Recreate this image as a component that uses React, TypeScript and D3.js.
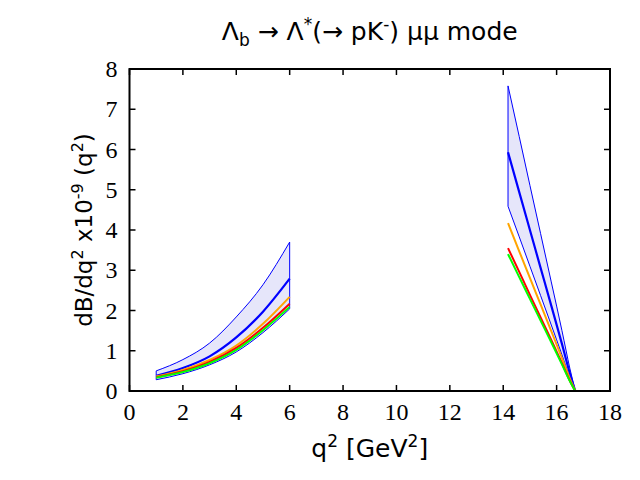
import * as d3 from "d3";

// low q2 region (1 - 6 GeV^2)
const lowQ2 = [1, 2, 3, 4, 5, 6];
const lowUpper = [0.5, 0.78, 1.19, 1.84, 2.64, 3.7];
const lowCentral = [0.38, 0.57, 0.86, 1.33, 1.97, 2.79];
const lowLower = [0.28, 0.43, 0.65, 0.97, 1.45, 2.04];
const lowOrange = [0.36, 0.52, 0.77, 1.13, 1.67, 2.34];
const lowRed = [0.34, 0.49, 0.72, 1.07, 1.57, 2.17];
const lowGreen = [0.33, 0.47, 0.69, 1.02, 1.51, 2.09];

// high q2 region (14.18 - endpoint)
const highQ2 = [14.18, 14.6, 15.0, 15.4, 15.8, 16.2, 16.5, 16.7];
const highUpper = [7.58, 6.32, 5.11, 3.91, 2.71, 1.5, 0.55, 0];
const highCentral = [5.93, 4.94, 4.0, 3.06, 2.12, 1.17, 0.43, 0];
const highLower = [4.59, 3.83, 3.1, 2.37, 1.64, 0.9, 0.33, 0];
const highOrange = [4.17, 3.47, 2.81, 2.15, 1.49, 0.82, 0.3, 0];
const highRed = [3.55, 2.96, 2.39, 1.83, 1.27, 0.69, 0.25, 0];
const highGreen = [3.4, 2.83, 2.29, 1.75, 1.21, 0.66, 0.24, 0];

const xTicks = d3.range(0, 19, 2);
const yTicks = d3.range(0, 9, 1);

const W = 640;
const H = 480;
const left = 129.5;
const right = 610;
const top = 69;
const bottom = 391;

const x = d3.scaleLinear().domain([0, 18]).range([left, right]);
const y = d3.scaleLinear().domain([0, 8]).range([bottom, top]);

const line = (xs: number[], ys: number[]) =>
  d3
    .line<number>()
    .x((_, i) => x(xs[i]))
    .y((d) => y(d))
    .curve(d3.curveMonotoneX)(ys) ?? "";

const band = (xs: number[], lo: number[], hi: number[]) =>
  d3
    .area<number>()
    .x((_, i) => x(xs[i]))
    .y0((d) => y(d))
    .y1((_, i) => y(hi[i]))
    .curve(d3.curveMonotoneX)(lo) ?? "";

const regions = [
  { q: lowQ2, up: lowUpper, c: lowCentral, lo: lowLower, o: lowOrange, r: lowRed, g: lowGreen },
  { q: highQ2, up: highUpper, c: highCentral, lo: highLower, o: highOrange, r: highRed, g: highGreen },
];

const App = () => {
  const tick = 6;
  return (
    <svg
      width={W}
      height={H}
      style={{ position: "absolute", left: 0, top: 0, background: "#fff" }}
    >
      <text
        x={(left + right) / 2}
        y={40}
        textAnchor="middle"
        fontFamily="DejaVu Sans"
        fontSize={25}
      >
        Λ<tspan fontSize={17} dy={6}>b</tspan>
        <tspan dy={-6}> → Λ</tspan>
        <tspan fontSize={17} dy={-10}>*</tspan>
        <tspan dy={10}>(→ pK</tspan>
        <tspan fontSize={17} dy={-10}>-</tspan>
        <tspan dy={10}>) μμ mode</tspan>
      </text>

      {regions.map((rg, i) => (
        <g key={i}>
          <path d={band(rg.q, rg.lo, rg.up)} fill="#e6e6fa" stroke="#0000ff" strokeWidth={1} />
          <path d={line(rg.q, rg.c)} fill="none" stroke="#0000ff" strokeWidth={2.2} />
          <path d={line(rg.q, rg.o)} fill="none" stroke="#ffa500" strokeWidth={2} />
          <path d={line(rg.q, rg.r)} fill="none" stroke="#ff0000" strokeWidth={2} />
          <path d={line(rg.q, rg.g)} fill="none" stroke="#00ff00" strokeWidth={2} />
        </g>
      ))}

      <rect
        x={left}
        y={top}
        width={right - left}
        height={bottom - top}
        fill="none"
        stroke="#000"
        strokeWidth={2}
      />
      {xTicks.map((t) => (
        <g key={"x" + t}>
          <line x1={x(t)} x2={x(t)} y1={bottom} y2={bottom - tick} stroke="#000" strokeWidth={1.5} />
          <line x1={x(t)} x2={x(t)} y1={top} y2={top + tick} stroke="#000" strokeWidth={1.5} />
          <text
            x={x(t)}
            y={bottom + 29}
            textAnchor="middle"
            fontFamily="Liberation Serif"
            fontSize={24}
          >
            {t}
          </text>
        </g>
      ))}
      {yTicks.map((t) => (
        <g key={"y" + t}>
          <line x1={left} x2={left + tick} y1={y(t)} y2={y(t)} stroke="#000" strokeWidth={1.5} />
          <line x1={right} x2={right - tick} y1={y(t)} y2={y(t)} stroke="#000" strokeWidth={1.5} />
          <text
            x={left - 12}
            y={y(t) + 8}
            textAnchor="end"
            fontFamily="Liberation Serif"
            fontSize={24}
          >
            {t}
          </text>
        </g>
      ))}

      <text
        x={(left + right) / 2}
        y={457}
        textAnchor="middle"
        fontFamily="DejaVu Sans"
        fontSize={25}
      >
        q<tspan fontSize={17} dy={-10}>2</tspan>
        <tspan dy={10}> [GeV</tspan>
        <tspan fontSize={17} dy={-10}>2</tspan>
        <tspan dy={10}>]</tspan>
      </text>

      <text
        transform={`translate(92, ${(top + bottom) / 2}) rotate(-90)`}
        textAnchor="middle"
        fontFamily="DejaVu Sans"
        fontSize={23}
      >
        dB/dq<tspan fontSize={16} dy={-9}>2</tspan>
        <tspan dy={9}> x10</tspan>
        <tspan fontSize={16} dy={-9}>-9</tspan>
        <tspan dy={9}> (q</tspan>
        <tspan fontSize={16} dy={-9}>2</tspan>
        <tspan dy={9}>)</tspan>
      </text>
    </svg>
  );
};

export default App;
